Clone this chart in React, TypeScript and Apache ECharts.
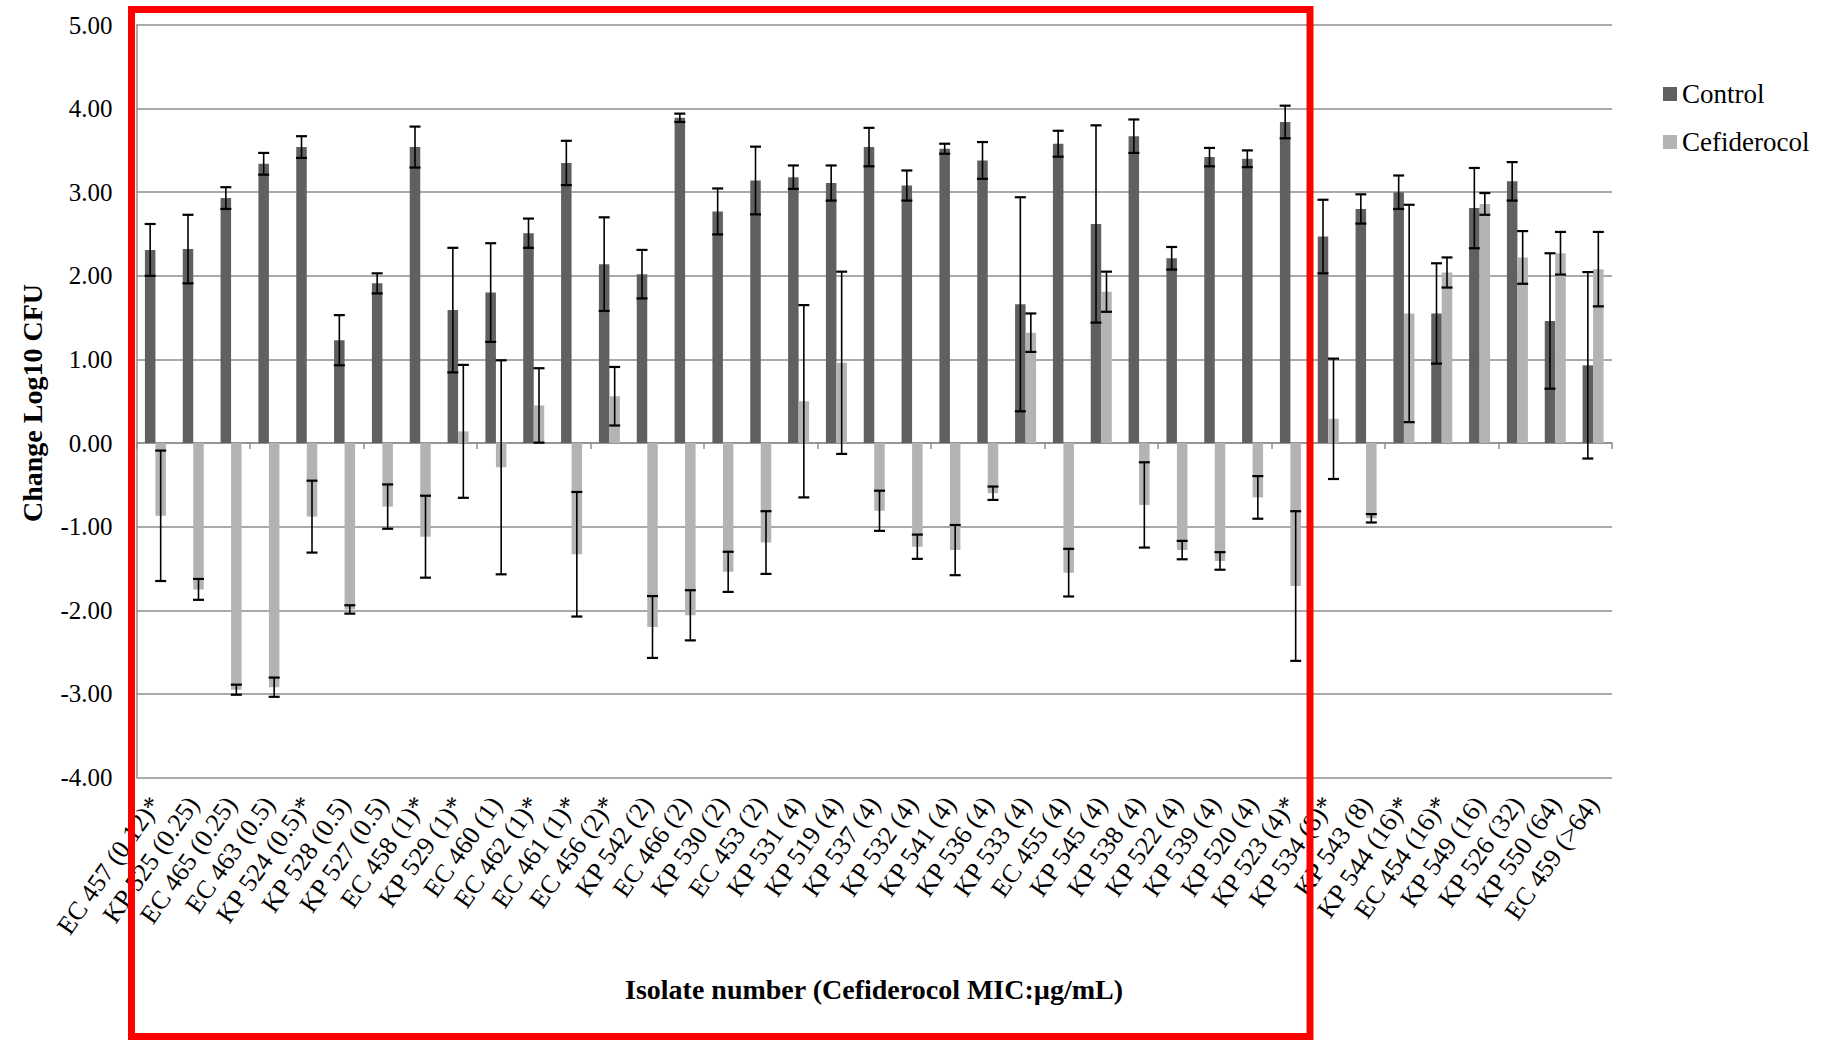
import React, { useEffect, useRef } from "react";
import * as echarts from "echarts";

const categories = [
  "EC 457 (0.12)*", "KP 525 (0.25)", "EC 465 (0.25)", "EC 463 (0.5)", "KP 524 (0.5)*",
  "KP 528 (0.5)", "KP 527 (0.5)", "EC 458 (1)*", "KP 529 (1)*", "EC 460 (1)",
  "EC 462 (1)*", "EC 461 (1)*", "EC 456 (2)*", "KP 542 (2)", "EC 466 (2)",
  "KP 530 (2)", "EC 453 (2)", "KP 531 (4)", "KP 519 (4)", "KP 537 (4)",
  "KP 532 (4)", "KP 541 (4)", "KP 536 (4)", "KP 533 (4)", "EC 455 (4)",
  "KP 545 (4)", "KP 538 (4)", "KP 522 (4)", "KP 539 (4)", "KP 520 (4)",
  "KP 523 (4)*", "KP 534 (8)*", "KP 543 (8)", "KP 544 (16)*", "EC 454 (16)*",
  "KP 549 (16)", "KP 526 (32)", "KP 550 (64)", "EC 459 (>64)",
];

const control = [
  2.31, 2.32, 2.93, 3.34, 3.54, 1.23, 1.91, 3.54, 1.59, 1.8,
  2.51, 3.35, 2.14, 2.02, 3.89, 2.77, 3.14, 3.18, 3.11, 3.54,
  3.08, 3.52, 3.38, 1.66, 3.58, 2.62, 3.67, 2.21, 3.42, 3.4,
  3.84, 2.47, 2.8, 3.0, 1.55, 2.81, 3.13, 1.46, 0.93,
];
const controlErr = [
  0.31, 0.41, 0.13, 0.13, 0.13, 0.3, 0.12, 0.245, 0.745, 0.59,
  0.175, 0.265, 0.56, 0.29, 0.05, 0.275, 0.405, 0.14, 0.21, 0.23,
  0.18, 0.06, 0.22, 1.28, 0.155, 1.18, 0.2, 0.135, 0.11, 0.1,
  0.195, 0.44, 0.175, 0.2, 0.6, 0.48, 0.23, 0.81, 1.115,
];
const cefiderocol = [
  -0.87, -1.75, -2.95, -2.92, -0.88, -1.99, -0.76, -1.12, 0.14, -0.29,
  0.45, -1.33, 0.56, -2.2, -2.06, -1.54, -1.19, 0.5, 0.96, -0.81,
  -1.24, -1.28, -0.6, 1.32, -1.55, 1.81, -0.74, -1.28, -1.41, -0.65,
  -1.71, 0.29, -0.9, 1.55, 2.04, 2.86, 2.22, 2.27, 2.08,
];
const cefiderocolErr = [
  0.78, 0.125, 0.06, 0.115, 0.43, 0.05, 0.265, 0.49, 0.795, 1.28,
  0.445, 0.745, 0.35, 0.37, 0.3, 0.24, 0.375, 1.15, 1.09, 0.24,
  0.145, 0.3, 0.08, 0.23, 0.285, 0.24, 0.51, 0.11, 0.105, 0.255,
  0.895, 0.72, 0.05, 1.3, 0.18, 0.13, 0.315, 0.255, 0.445,
];

const seriesNames = ["Control", "Cefiderocol"];
const yTitle = "Change Log10 CFU";
const xTitle = "Isolate number (Cefiderocol MIC:\u00b5g/mL)";

const FONT = "Liberation Serif";
const GRID_COLOR = "#8e8e8e";
const BAR_W = 10.5;

function errorSeries(name: string, means: number[], errs: number[], offset: number) {
  return {
    name,
    type: "custom",
    xAxisIndex: 0,
    yAxisIndex: 0,
    silent: true,
    z: 10,
    data: means.map((m, i) => [i, m, errs[i]]),
    encode: { x: 0, y: 1 },
    renderItem: (params: any, api: any) => {
      const idx = api.value(0);
      const mean = api.value(1);
      const err = api.value(2);
      const x = api.coord([idx, mean])[0] + offset;
      const yT = api.coord([idx, mean + err])[1];
      const yB = api.coord([idx, mean - err])[1];
      const cap = 5.5;
      const st = { stroke: "#000", lineWidth: 1.6 };
      const cs = { stroke: "#000", lineWidth: 2.2 };
      return {
        type: "group",
        children: [
          { type: "line", shape: { x1: x, y1: yT, x2: x, y2: yB }, style: st },
          { type: "line", shape: { x1: x - cap, y1: yT, x2: x + cap, y2: yT }, style: cs },
          { type: "line", shape: { x1: x - cap, y1: yB, x2: x + cap, y2: yB }, style: cs },
        ],
      };
    },
  };
}

export default function App() {
  const ref = useRef<HTMLDivElement>(null);
  useEffect(() => {
    document.body.style.margin = "0";
    const chart = echarts.init(ref.current as HTMLDivElement, null, { renderer: "svg" });
    chart.setOption({
      animation: false,
      backgroundColor: "#ffffff",
      textStyle: { fontFamily: FONT },
      grid: { left: 136.5, right: 209, top: 25, bottom: 262.5, containLabel: false },
      legend: {
        data: seriesNames,
        orient: "vertical",
        left: 1658,
        top: 75.5,
        itemWidth: 14,
        itemHeight: 14,
        itemGap: 21,
        icon: "rect",
        textStyle: { fontFamily: FONT, fontSize: 27, color: "#000", lineHeight: 27 },
      },
      xAxis: [
        {
          type: "category",
          data: categories,
          position: "bottom",
          axisLine: { show: false, onZero: false },
          axisTick: { show: false },
          axisLabel: {
            interval: 0,
            rotate: 55,
            margin: 22,
            fontFamily: FONT,
            fontSize: 26,
            color: "#000",
          },
          splitLine: { show: false },
        },
        {
          type: "category",
          data: categories,
          position: "bottom",
          axisLine: { show: true, onZero: true, onZeroAxisIndex: 0, lineStyle: { color: GRID_COLOR, width: 1.5 } },
          axisTick: { show: true, length: 6, lineStyle: { color: GRID_COLOR, width: 1.5 } },
          axisLabel: { show: false },
          splitLine: { show: false },
        },
      ],
      yAxis: {
        type: "value",
        min: -4,
        max: 5,
        interval: 1,
        axisLine: { show: true, lineStyle: { color: GRID_COLOR, width: 1.5 } },
        axisTick: { show: false },
        splitLine: { show: true, lineStyle: { color: GRID_COLOR, width: 1.5 } },
        axisLabel: {
          formatter: (v: number) => v.toFixed(2),
          fontFamily: FONT,
          fontSize: 25,
          color: "#000",
          margin: 24,
        },
      },
      series: [
        {
          name: seriesNames[0],
          type: "bar",
          data: control,
          barWidth: BAR_W,
          barGap: "0%",
          itemStyle: { color: "#606060" },
        },
        {
          name: seriesNames[1],
          type: "bar",
          data: cefiderocol,
          barWidth: BAR_W,
          barGap: "0%",
          itemStyle: { color: "#b3b3b3" },
        },
        errorSeries("Control error", control, controlErr, -BAR_W / 2),
        errorSeries("Cefiderocol error", cefiderocol, cefiderocolErr, BAR_W / 2),
      ],
      graphic: [
        {
          type: "text",
          x: 32,
          y: 403,
          rotation: Math.PI / 2,
          silent: true,
          style: {
            text: yTitle,
            font: "bold 28px " + FONT,
            fill: "#000",
            textAlign: "center",
            textVerticalAlign: "middle",
            align: "center",
            verticalAlign: "middle",
          },
        },
        {
          type: "text",
          x: 874,
          y: 989,
          silent: true,
          style: {
            text: xTitle,
            font: "bold 28px " + FONT,
            fill: "#000",
            textAlign: "center",
            textVerticalAlign: "middle",
            align: "center",
            verticalAlign: "middle",
          },
        },
        {
          type: "rect",
          silent: true,
          z: 100,
          shape: { x: 131.5, y: 9.5, width: 1178.5, height: 1027 },
          style: { fill: "none", stroke: "#ff0000", lineWidth: 7 },
        },
      ],
    });
    return () => chart.dispose();
  }, []);
  return <div ref={ref} style={{ width: 1821, height: 1040 }} />;
}
